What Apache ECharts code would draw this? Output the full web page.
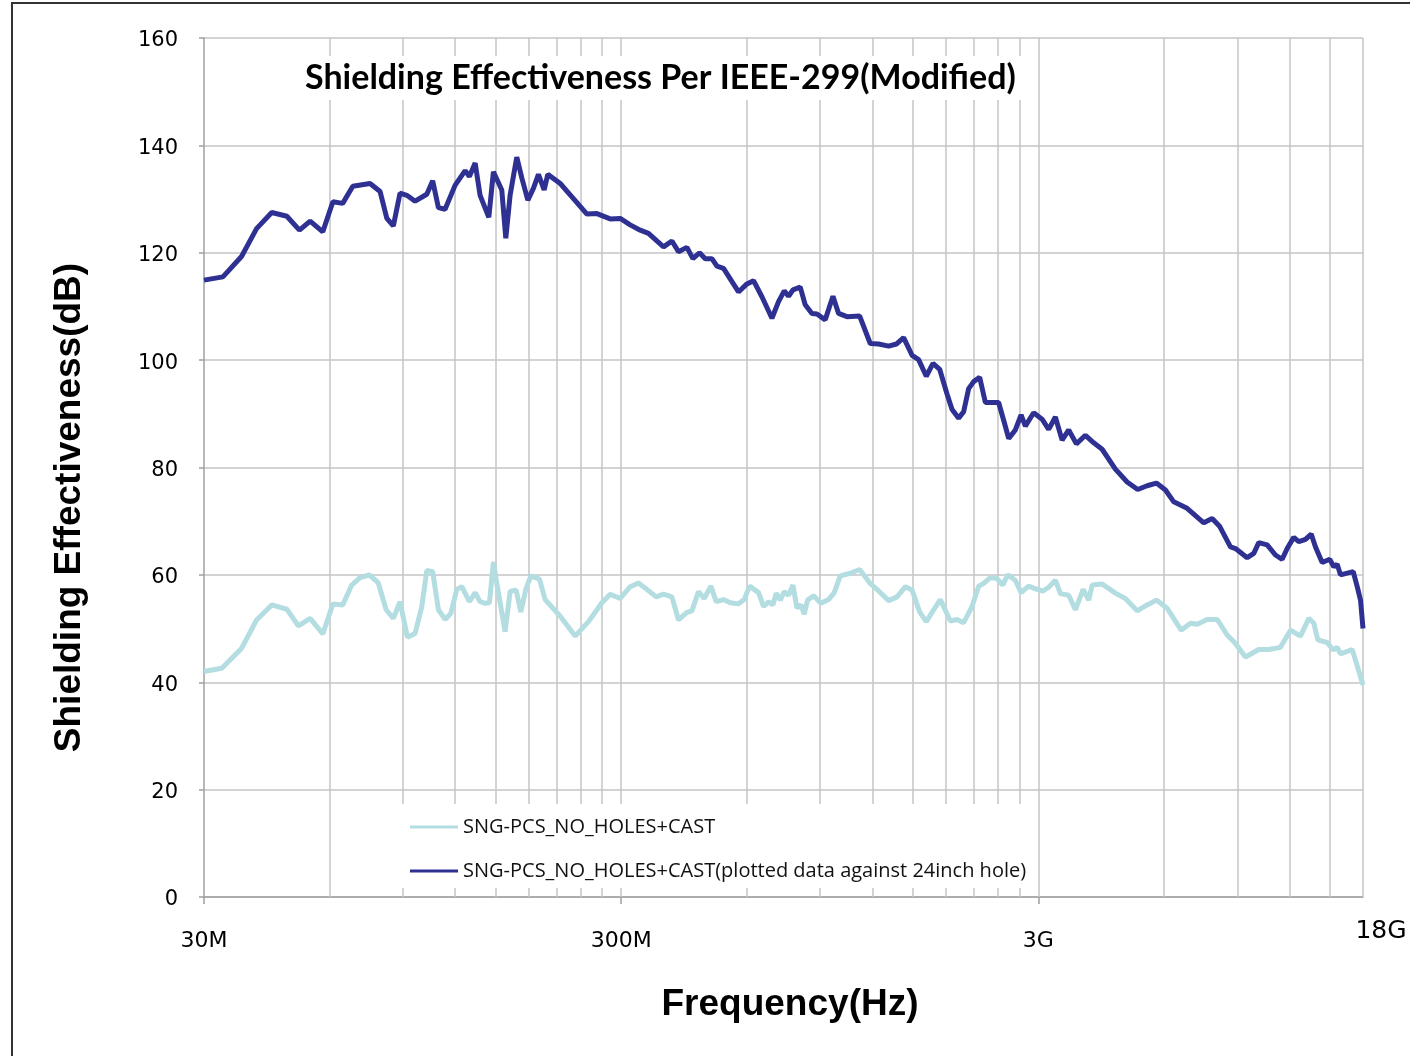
<!DOCTYPE html>
<html>
<head>
<meta charset="utf-8">
<title>Shielding Effectiveness Per IEEE-299(Modified)</title>
<script src="https://cdn.jsdelivr.net/npm/echarts@6/dist/echarts.min.js"></script>
<style>
  html, body { margin: 0; padding: 0; background: #fff; }
  #chart { width: 1410px; height: 1056px; }
</style>
</head>
<body>
<div id="chart"></div>
<script>
// Series names
const nameLight = 'SNG-PCS_NO_HOLES+CAST';
const nameDark = 'SNG-PCS_NO_HOLES+CAST(plotted data against 24inch hole)';

// Sample frequencies in MHz and shielding effectiveness in dB
const freqLight = [30, 33.1, 36.9, 40.1, 43.6, 47.4, 50.5, 53.9, 57.8, 61.1, 64.5, 67.8, 71.0, 74.7, 78.5, 82.0, 85.3, 88.5, 92.2, 96.2,
  99.8, 102.6, 106.0, 109.4, 113.5, 117.1, 121.1, 124.5, 129.8, 134.0, 137.7, 141.6, 145.0, 148.2, 151.0, 158.1, 162.5, 168.0, 172.4, 177.5,
  182.2, 191.1, 197.2, 214.3, 232.7, 250.5, 269.7, 282.3, 298.3, 315.3, 330.1, 345.7, 363.9, 379.0, 396.9, 411.6, 431.2, 443.2, 459.7, 474.4,
  492.3, 506.9, 527.7, 547.5, 573.3, 591.7, 609.3, 640.4, 658.3, 676.6, 693.2, 706.0, 721.8, 737.9, 755.6, 774.2, 791.3, 809.0, 824.0, 839.2,
  867.5, 903.6, 942.4, 972.5, 1005, 1062, 1119, 1186, 1242, 1313, 1375, 1440, 1494, 1557, 1616, 1683, 1746, 1846, 1915, 1986,
  2080, 2158, 2218, 2301, 2388, 2464, 2533, 2642, 2727, 2843, 2979, 3079, 3176, 3295, 3388, 3547, 3680, 3841, 3961, 4037,
  4265, 4589, 4850, 5174, 5468, 5756, 6105, 6597, 6944, 7207, 7616, 8049, 8506, 8905, 9409, 10126, 10702, 11414, 12063, 12748,
  13346, 13720, 14026, 14772, 15270, 15610, 15896, 16959, 17366, 18000];
const seLight = [42.0, 42.6, 46.3, 51.6, 54.4, 53.6, 50.5, 51.9, 49.0, 54.6, 54.4, 58.1, 59.5, 60.0, 58.5, 53.5, 51.9, 55.0, 48.4, 49.1,
  54.1, 60.8, 60.6, 53.5, 51.7, 52.8, 57.3, 57.8, 55.0, 56.7, 55.0, 54.7, 54.8, 62.4, 58.4, 49.4, 56.9, 57.2, 53.1, 57.5,
  59.8, 59.2, 55.4, 52.3, 48.6, 51.3, 54.8, 56.4, 55.6, 57.8, 58.5, 57.3, 55.9, 56.4, 55.9, 51.6, 53.0, 53.3, 56.9, 55.6,
  57.9, 55.0, 55.4, 54.8, 54.6, 55.4, 57.9, 56.7, 54.1, 55.0, 54.4, 56.6, 55.3, 56.9, 56.2, 58.1, 53.8, 54.4, 52.7, 55.3,
  56.1, 54.7, 55.4, 56.7, 59.8, 60.3, 61.0, 58.4, 57.0, 55.2, 55.9, 57.8, 57.2, 53.1, 51.3, 53.5, 55.4, 51.4, 51.7, 51.1,
  54.1, 57.9, 58.4, 59.5, 59.3, 58.1, 60.0, 59.0, 56.7, 57.9, 57.3, 57.0, 57.7, 59.0, 56.5, 56.2, 53.5, 57.3, 55.3, 58.1,
  58.3, 56.6, 55.6, 53.3, 54.4, 55.3, 53.8, 49.7, 51.0, 50.8, 51.7, 51.7, 48.8, 47.2, 44.7, 46.1, 46.1, 46.5, 49.7, 48.6,
  51.9, 51.0, 47.9, 47.4, 46.0, 46.5, 45.3, 46.1, 43.5, 39.5];

const freqDark = [30, 33.3, 36.9, 40.1, 43.6, 47.4, 50.8, 53.9, 57.8, 61.1, 64.5, 68.2, 75.0, 79.3, 82.3, 85.3, 88.5, 91.9, 96.2, 102.6,
  106.0, 109.4, 113.5, 120.0, 126.8, 129.8, 134.0, 137.7, 144.5, 148.2, 155.2, 158.7, 162.5, 168.6, 173.4, 179.2, 184.8, 190.0, 196.1, 200.1,
  214.3, 230.5, 248.3, 262.4, 282.3, 298.3, 315.3, 333.2, 348.8, 365.3, 379.0, 396.9, 411.6, 431.2, 445.7, 462.3, 477.0, 495.0, 508.9, 527.7,
  573.3, 600.5, 622.8, 652.4, 689.4, 715.0, 737.9, 755.6, 774.2, 806.0, 828.5, 859.7, 883.8, 925.3, 947.5, 965.5, 995.8, 1043, 1119, 1186,
  1242, 1313, 1370, 1426, 1494, 1549, 1616, 1677, 1740, 1812, 1863, 1932, 1986, 2042, 2099, 2170, 2239, 2323, 2409, 2477,
  2547, 2642, 2727, 2792, 2923, 3062, 3176, 3295, 3420, 3547, 3701, 3889, 4072, 4265, 4589, 4896, 5190, 5468, 5756, 6050,
  6333, 6818, 7475, 7829, 8166, 8662, 8905, 9498, 9850, 10126, 10605, 11103, 11522, 11844, 12283, 12627, 13104, 13525, 13849, 14369,
  14986, 15321, 15610, 15896, 17053, 17434, 17755, 18000];
const seDark = [114.9, 115.5, 119.3, 124.5, 127.5, 126.8, 124.2, 125.9, 123.9, 129.5, 129.2, 132.4, 132.9, 131.4, 126.4, 125.0, 131.1, 130.7, 129.6, 130.9,
  133.4, 128.4, 128.1, 132.6, 135.3, 134.2, 136.7, 130.7, 126.6, 135.1, 131.7, 122.7, 130.7, 137.8, 133.9, 129.8, 132.0, 134.6, 131.7, 134.6,
  132.9, 130.1, 127.2, 127.3, 126.3, 126.4, 125.2, 124.2, 123.6, 122.2, 121.1, 122.2, 120.2, 121.0, 118.9, 120.0, 118.9, 118.9, 117.5, 117.1,
  112.7, 114.2, 114.8, 111.8, 107.8, 110.9, 112.9, 111.9, 113.1, 113.6, 110.3, 108.7, 108.6, 107.5, 110.0, 111.9, 108.7, 108.1, 108.2, 103.1,
  103.0, 102.6, 103.0, 104.2, 100.9, 100.1, 97.0, 99.4, 98.3, 93.7, 90.8, 89.2, 90.4, 94.7, 96.0, 96.8, 92.1, 92.1, 92.1, 88.8,
  85.4, 87.0, 89.8, 87.7, 90.2, 89.0, 87.1, 89.4, 85.1, 87.0, 84.4, 86.0, 84.6, 83.4, 79.7, 77.3, 75.9, 76.6, 77.1, 75.8,
  73.6, 72.4, 69.7, 70.5, 69.0, 65.2, 64.9, 63.2, 64.0, 66.0, 65.6, 63.7, 62.9, 64.9, 67.0, 66.2, 66.6, 67.6, 65.2, 62.3,
  62.9, 61.5, 62.0, 60.0, 60.6, 57.8, 55.3, 50.0];

// Frequency grid (MHz): multiples of 30 MHz within each decade
const gridFreqs = [60, 90, 120, 150, 180, 210, 240, 270, 300, 600, 900, 1200, 1500, 1800, 2100, 2400, 2700, 3000,
  6000, 9000, 12000, 15000, 18000];
const labelFreqs = [30, 300, 3000, 18000];
const labelNames = ['30M', '300M', '3G', '18G'];
const majorTickFreqs = [30, 300, 3000];

const gridColor = '#c4c4c4';
const axisColor = '#a0a0a0';
const colorLight = '#b3dde1';
const colorDark = '#2e3192';

function zip(xs, ys) { return xs.map((x, i) => [x, ys[i]]); }

function freqLabel(v) {
  for (let i = 0; i < labelFreqs.length; i++) {
    if (Math.abs(Math.log(v / labelFreqs[i])) < 0.01) {
      return labelFreqs[i] === 18000 ? '{big|' + labelNames[i] + '}' : labelNames[i];
    }
  }
  return '';
}

const lineIcon = 'path://M0,0H48V3H0Z';

const chart = echarts.init(document.getElementById('chart'), null, { renderer: 'canvas' });

chart.setOption({
  animation: false,
  backgroundColor: '#fff',
  title: {
    text: 'Shielding Effectiveness Per IEEE-299(Modified)',
    left: 298,
    top: 56,
    z: 20,
    padding: [5, 7, 5, 7],
    backgroundColor: '#fff',
    textStyle: { fontFamily: 'Lato', fontWeight: 'bold', fontSize: 34, color: '#000' }
  },
  legend: {
    data: [
      { name: nameLight, icon: lineIcon },
      { name: nameDark, icon: lineIcon }
    ],
    orient: 'vertical',
    left: 401,
    top: 804,
    z: 20,
    padding: [12, 10, 6, 9],
    backgroundColor: '#fff',
    itemWidth: 48,
    itemHeight: 3,
    itemGap: 22,
    itemTextGap: 8,
    textStyle: { fontFamily: 'Open Sans', fontSize: 20, lineHeight: 22, color: '#111' }
  },
  grid: { left: 204, right: 47, top: 38, bottom: 159, containLabel: false },
  xAxis: {
    type: 'log',
    logBase: 10,
    min: 30,
    max: 18000,
    name: 'Frequency(Hz)',
    nameLocation: 'middle',
    nameGap: 89,
    nameTextStyle: { fontFamily: 'Liberation Sans', fontWeight: 'bold', fontSize: 37, color: '#000', padding: [0, 0, 0, 13] },
    axisLine: { show: true, lineStyle: { color: axisColor, width: 1.5 } },
    axisTick: { show: true, customValues: majorTickFreqs, length: 7, lineStyle: { color: axisColor, width: 1.5 } },
    axisLabel: {
      customValues: labelFreqs,
      formatter: freqLabel,
      margin: 33,
      fontFamily: 'DejaVu Sans',
      fontSize: 22,
      color: '#000',
      rich: {
        big: { fontFamily: 'DejaVu Sans', fontSize: 25, color: '#000', lineHeight: 2, padding: [0, 0, 0, 36] }
      }
    },
    splitLine: { show: false },
    minorTick: { show: false }
  },
  yAxis: {
    type: 'value',
    min: 0,
    max: 160,
    interval: 20,
    name: 'Shielding Effectiveness(dB)',
    nameLocation: 'middle',
    nameGap: 116,
    nameTextStyle: { fontFamily: 'Liberation Sans', fontWeight: 'bold', fontSize: 37, color: '#000', padding: [0, 80, 0, 0] },
    axisLine: { show: true, lineStyle: { color: axisColor, width: 1.5 } },
    axisTick: { show: true, length: 5, lineStyle: { color: axisColor, width: 1.5 } },
    axisLabel: { margin: 26, fontFamily: 'DejaVu Sans', fontSize: 21, color: '#000', verticalAlign: 'top', lineHeight: 6 },
    splitLine: { show: true, lineStyle: { color: gridColor, width: 1.5 } }
  },
  graphic: [{
    type: 'rect',
    silent: true,
    z: 100,
    shape: { x: 12, y: 3, width: 1430, height: 1090 },
    style: { fill: null, stroke: '#333', lineWidth: 2 }
  }],
  series: [
    {
      // vertical frequency grid
      name: 'grid',
      type: 'line',
      data: [],
      z: 1,
      zlevel: 0,
      silent: true,
      markLine: {
        silent: true,
        z: 1,
        symbol: ['none', 'none'],
        label: { show: false },
        emphasis: { disabled: true },
        lineStyle: { type: 'solid', color: gridColor, width: 1.5 },
        data: gridFreqs.map(f => ({ xAxis: f }))
      }
    },
    {
      name: nameLight,
      type: 'line',
      z: 3,
      symbol: 'none',
      lineStyle: { color: colorLight, width: 5 },
      itemStyle: { color: colorLight },
      data: zip(freqLight, seLight)
    },
    {
      name: nameDark,
      type: 'line',
      z: 3,
      symbol: 'none',
      lineStyle: { color: colorDark, width: 5 },
      itemStyle: { color: colorDark },
      data: zip(freqDark, seDark)
    }
  ]
});
</script>
</body>
</html>
